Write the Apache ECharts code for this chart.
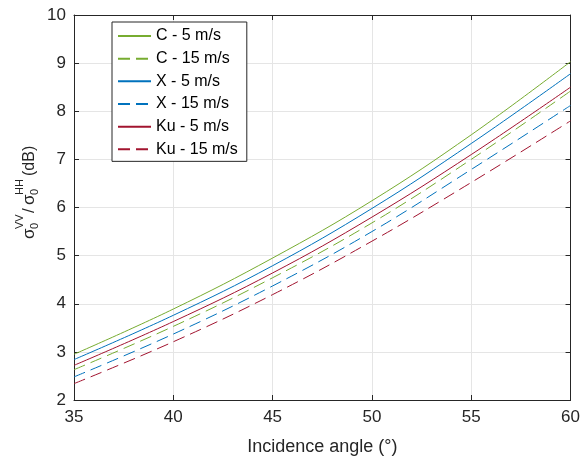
<!DOCTYPE html>
<html>
<head>
<meta charset="utf-8">
<script src="https://cdn.jsdelivr.net/npm/echarts@6/dist/echarts.min.js"></script>
<style>html,body{margin:0;padding:0;background:#fff}#c{width:583px;height:461px}</style>
</head>
<body>
<div id="c"></div>
<script>
var angles = [35, 40, 45, 50, 55, 60];
var C5   = [2.95, 3.89, 4.95, 6.14, 7.51, 9.03];
var C15  = [2.63, 3.53, 4.54, 5.68, 7.00, 8.42];
var X5   = [2.84, 3.76, 4.79, 5.98, 7.33, 8.78];
var X15  = [2.48, 3.37, 4.37, 5.50, 6.79, 8.12];
var Ku5  = [2.72, 3.63, 4.64, 5.80, 7.10, 8.50];
var Ku15 = [2.34, 3.21, 4.19, 5.30, 6.52, 7.80];
var seriesNames = ['C - 5 m/s', 'C - 15 m/s', 'X - 5 m/s', 'X - 15 m/s', 'Ku - 5 m/s', 'Ku - 15 m/s'];
var xTicks = [35, 40, 45, 50, 55, 60];
var yTicks = [2, 3, 4, 5, 6, 7, 8, 9, 10];

var FONT = '"Liberation Sans", Arial, Helvetica, sans-serif';
var AX = '#262626';
var colors = ['#77AC30', '#77AC30', '#0072BD', '#0072BD', '#A2142F', '#A2142F'];
var values = [C5, C15, X5, X15, Ku5, Ku15];
var dashed = [false, true, false, true, false, true];

function pairs(v) { return angles.map(function (a, i) { return [a, v[i]]; }); }

var series = values.map(function (v, k) {
  return {
    name: seriesNames[k], type: 'line', data: pairs(v),
    smooth: 0.4, showSymbol: false, symbol: 'none',
    xAxisIndex: 0, yAxisIndex: 0,
    lineStyle: { color: colors[k], width: 1, type: dashed[k] ? [12, 6] : 'solid' },
    itemStyle: { color: colors[k] },
    emphasis: { disabled: true }, animation: false
  };
});

function axisBase(show) {
  return {
    axisLine: { show: true, onZero: false, lineStyle: { color: AX, width: 1 } },
    axisTick: { show: true, inside: true, length: 5, lineStyle: { color: AX } },
    axisLabel: { show: show, color: AX, fontSize: 17, fontFamily: FONT },
    splitLine: { show: show, lineStyle: { color: '#e5e5e5', width: 1 } }
  };
}

var xMain = Object.assign(axisBase(true), {
  type: 'value', min: xTicks[0], max: xTicks[xTicks.length - 1], interval: 5, position: 'bottom',
  name: 'Incidence angle (°)', nameLocation: 'middle', nameGap: 38,
  nameTextStyle: { color: AX, fontSize: 18, fontFamily: FONT }
});
xMain.axisLabel.margin = 9;
var xTop = Object.assign(axisBase(false), { type: 'value', min: 35, max: 60, interval: 5, position: 'top' });
var yMain = Object.assign(axisBase(true), { type: 'value', min: yTicks[0], max: yTicks[yTicks.length - 1], interval: 1, position: 'left' });
yMain.axisLabel.margin = 8;
var yRight = Object.assign(axisBase(false), { type: 'value', min: 2, max: 10, interval: 1, position: 'right' });

var ylab = function (txt, x, y, size) {
  return { type: 'text', x: x, y: y, style: { text: txt, font: size + 'px ' + FONT, fill: AX, verticalAlign: 'middle', align: 'left' } };
};

var chart = echarts.init(document.getElementById('c'), null, { renderer: 'canvas' });
chart.setOption({
  animation: false,
  backgroundColor: '#fff',
  grid: { left: 74, right: 11, top: 15, bottom: 56, containLabel: false },
  xAxis: [xMain, xTop],
  yAxis: [yMain, yRight],
  legend: {
    orient: 'vertical', left: 112, top: 22,
    padding: [6, 9, 4, 5], itemGap: 6.67, itemWidth: 33, itemHeight: 14,
    backgroundColor: '#fff', borderColor: AX, borderWidth: 1, borderRadius: 0,
    itemStyle: { opacity: 0 },
    textStyle: { color: '#000', fontSize: 16, fontFamily: FONT },
    data: seriesNames
  },
  graphic: [{
    type: 'group', x: 35, y: 239, rotation: Math.PI / 2,
    children: [
      ylab('σ', 0, -5.5, 17),
      ylab('0', 10, 0, 11),
      ylab('VV', 10, -15, 11),
      ylab('/', 26, -5.5, 17),
      ylab('σ', 34, -5.5, 17),
      ylab('0', 44, 0, 11),
      ylab('HH', 44, -15, 11),
      ylab('(dB)', 63, -5.5, 16)
    ]
  }],
  series: series
});
</script>
</body>
</html>
